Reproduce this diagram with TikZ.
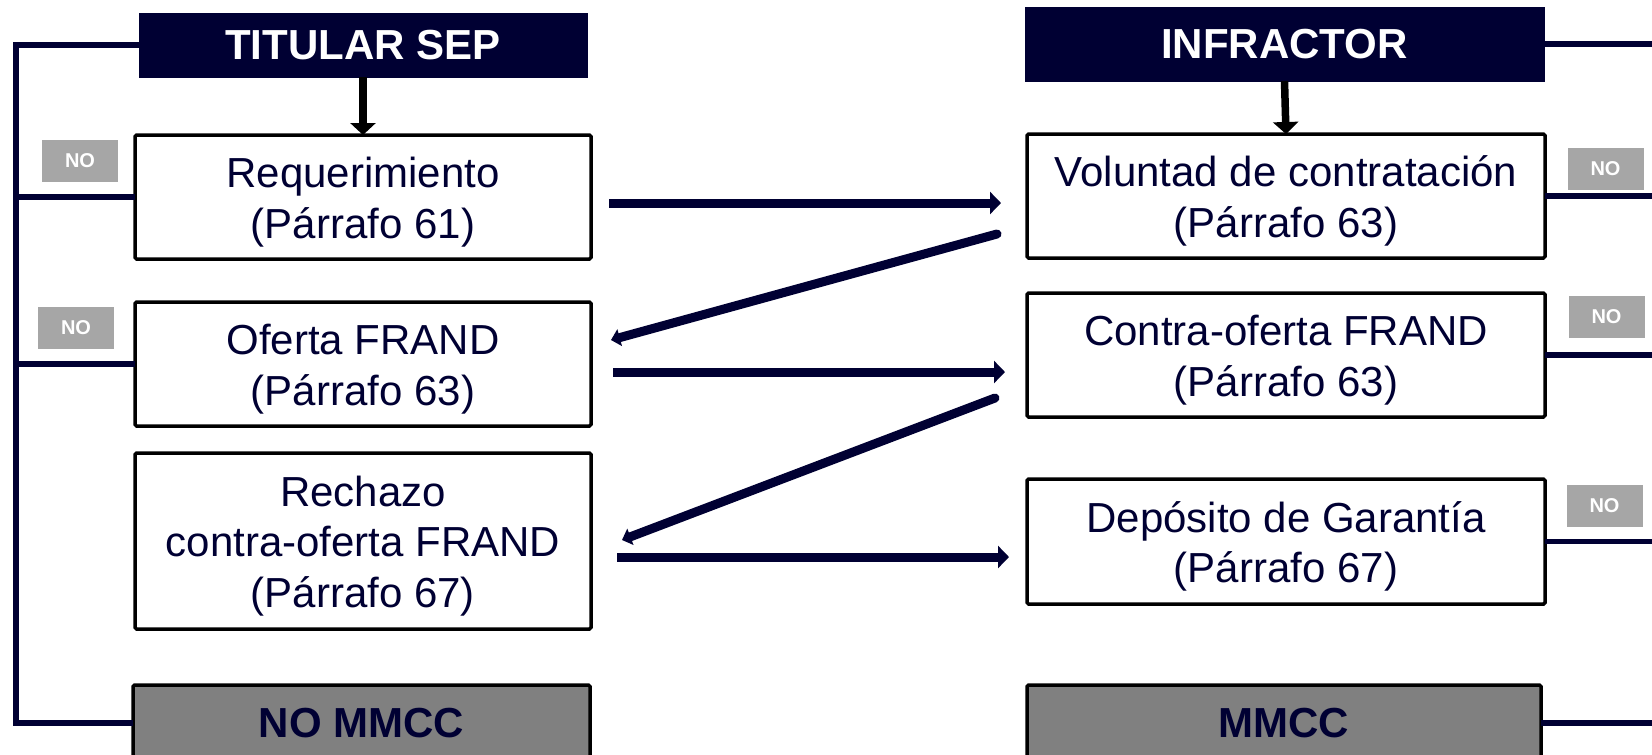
\documentclass[tikz,border=0pt]{standalone}
\usepackage{fontspec}
\setmainfont{Liberation Sans}
\usetikzlibrary{arrows.meta}
\definecolor{navy}{RGB}{0,0,51}
\definecolor{nogray}{RGB}{166,166,166}
\definecolor{midgray}{RGB}{128,128,128}
\tikzset{
  box/.style={draw=black, line width=3.5pt, fill=white, rounded corners=1.5pt, inner sep=0pt, outer sep=0pt},
  boxtext/.style={align=center, text=navy, font=\fontsize{42}{50.5}\selectfont, inner sep=0pt, yshift=-5pt},
  btext/.style={label={[boxtext]center:{#1}}},
  head/.style={draw=navy, line width=1pt, fill=navy, inner sep=0pt, outer sep=0pt, text=white,
    font=\fontsize{42}{50}\selectfont\bfseries},
  endbox/.style={draw=black, line width=3.5pt, fill=midgray, rounded corners=1.5pt, inner sep=0pt, outer sep=0pt,
    text=navy, font=\fontsize{42}{50}\selectfont\bfseries},
  nobox/.style={fill=nogray, inner sep=0pt, outer sep=0pt, minimum width=76pt, minimum height=42pt,
    text=white, font=\fontsize{20}{24}\selectfont\bfseries},
  tree/.style={draw=navy, line width=5.5pt, line join=miter},
  harrow/.style={draw=navy, line width=9pt, -{Triangle[length=11pt,width=22pt]}},
  darrow/.style={draw=navy, line width=9pt, line cap=round, -{Triangle[length=9pt,width=17pt]}},
  downarrow/.style={draw=black, line width=7.5pt, -{Triangle[length=12pt,width=25pt]}}
}
\begin{document}
\begin{tikzpicture}[x=1pt,y=-1pt]
\clip (0,0) rectangle (1652,755);
\fill[white] (0,0) rectangle (1652,755);
% headers
\node[head, minimum width=448pt, minimum height=64pt] (tit) at (363,45) {TITULAR SEP};
\node[head, minimum width=519pt, minimum height=74pt] (inf) at (1284.5,44) {INFRACTOR};
% left boxes
\node[box, minimum width=456pt, minimum height=124pt, btext={Requerimiento\\(Párrafo 61)}] (req) at (363,197) {};
\node[box, minimum width=456pt, minimum height=124pt, btext={Oferta FRAND\\(Párrafo 63)}] (ofe) at (363,364) {};
\node[box, minimum width=456pt, minimum height=176pt, btext={Rechazo\\contra-oferta FRAND\\(Párrafo 67)}] (rec) at (363,541) {};
\node[endbox, minimum width=457pt, minimum height=76pt] (nom) at (361.5,723) {NO MMCC};
% right boxes
\node[box, minimum width=518pt, minimum height=124pt, btext={Voluntad de contratación\\(Párrafo 63)}] (vol) at (1286,196) {};
\node[box, minimum width=518pt, minimum height=124pt, btext={Contra-oferta FRAND\\(Párrafo 63)}] (con) at (1286,355) {};
\node[box, minimum width=518pt, minimum height=125pt, btext={Depósito de Garantía\\(Párrafo 67)}] (dep) at (1286,541.5) {};
\node[endbox, minimum width=514pt, minimum height=76pt] (mmc) at (1284,723) {MMCC};
% NO labels
\node[nobox] (no1) at (80,161) {NO};
\node[nobox] (no2) at (76,328) {NO};
\node[nobox] (no3) at (1605.5,169) {NO};
\node[nobox] (no4) at (1606.5,317) {NO};
\node[nobox] (no5) at (1604.5,505.5) {NO};
% tree connectors
\coordinate (L) at (16,0);
\coordinate (R) at (1670,0);
\draw[tree] (tit.west) -- (tit.west -| L) -- (nom.west -| L) -- (nom.west);
\draw[tree] (req.west) -- (req.west -| L);
\draw[tree] (ofe.west) -- (ofe.west -| L);
\draw[tree] (inf.east) -- (inf.east -| R);
\draw[tree] (vol.east) -- (vol.east -| R);
\draw[tree] (con.east) -- (con.east -| R);
\draw[tree] (dep.east) -- (dep.east -| R);
\draw[tree] (mmc.east) -- (mmc.east -| R);
% down arrows
\draw[downarrow] (tit.south) -- (req.north);
\draw[downarrow] (inf.south) -- (vol.north);
% exchange arrows
\coordinate (a1s) at (609,203);  \coordinate (a1e) at (1001,203);
\coordinate (a2s) at (997,234);  \coordinate (a2e) at (611,340);
\coordinate (a3s) at (613,372);  \coordinate (a3e) at (1005,372);
\coordinate (a4s) at (995,398);  \coordinate (a4e) at (622,540);
\coordinate (a5s) at (617,557);  \coordinate (a5e) at (1009,557);
\draw[harrow] (a1s) -- (a1e);
\draw[darrow] (a2s) -- (a2e);
\draw[harrow] (a3s) -- (a3e);
\draw[darrow] (a4s) -- (a4e);
\draw[harrow] (a5s) -- (a5e);
\end{tikzpicture}
\end{document}
